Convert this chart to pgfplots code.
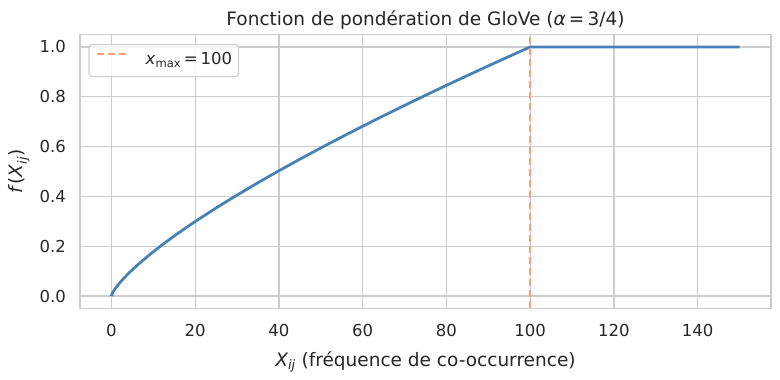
\documentclass[border=0pt]{standalone}
\usepackage{fontspec}
\setmainfont{DejaVu Sans}
\usepackage{amsmath}
\usepackage{pgfplots}
\pgfplotsset{compat=1.18}
\definecolor{steel}{HTML}{4682B4}
\definecolor{salm}{HTML}{F7A07E}
\definecolor{gridc}{HTML}{CCCCCC}
\definecolor{txt}{HTML}{262626}
\newcommand{\tickfont}{\fontsize{16.5}{19.8}\selectfont}
\newcommand{\labfont}{\fontsize{18.5}{22}\selectfont}
\begin{document}
\begin{tikzpicture}
\begin{axis}[
  width=691pt, height=274pt, scale only axis,
  xmin=-7.5, xmax=157.5, ymin=-0.05, ymax=1.05,
  xtick={0,20,40,60,80,100,120,140},
  ytick={0,0.2,0.4,0.6,0.8,1.0},
  grid=major,
  major grid style={gridc, line width=1.3pt},
  axis line style={gridc, line width=1.7pt},
  major tick length=0pt,
  /pgf/number format/assume math mode=true,
  tick label style={font=\tickfont, text=txt},
  xticklabel style={inner sep=0pt, anchor=north, yshift=-15.5pt},
  yticklabel style={inner sep=0pt, anchor=east, xshift=-14pt,
    /pgf/number format/.cd, fixed, fixed zerofill, precision=1},
  every axis x label/.style={at={(axis description cs:0.5,-0.2099)}, anchor=base, font=\labfont, text=txt},
  every axis y label/.style={at={(axis description cs:-0.0825,0.5)}, rotate=90, anchor=base, font=\labfont, text=txt},
  every axis title/.style={at={(axis description cs:0.5,1)}, anchor=base, yshift=8.5pt, font=\labfont, text=txt},
  title={Fonction de pondération de GloVe (\textit{α}\,=\,3/4)},
  xlabel={$\text{\itshape X}_{\text{\itshape ij}}$ (fréquence de co-occurrence)},
  ylabel={\textit{f}($\text{\itshape X}_{\text{\itshape ij}}$)},
  legend style={at={(axis description cs:0.0123,0.9653)}, anchor=north west,
    draw=gridc, line width=1.1pt, rounded corners=3pt, fill=white, fill opacity=0.8, text opacity=1,
    inner xsep=6.5pt, inner ysep=7.75pt, font=\tickfont, text=txt,
    nodes={inner sep=0pt, text height=12.5pt, text depth=4pt}},
  legend image code/.code={\draw[#1] (0pt,6.5pt) -- (30pt,6.5pt);},
]
\addplot[steel, line width=2.8pt, line join=round, forget plot] coordinates {
(0,0) (0.1,0.00562) (0.25,0.01118) (0.5,0.01880) (1,0.03162) (1.5,0.04287) (2,0.05318) (3,0.07208)
(4,0.0894) (5,0.1057) (6,0.1212) (7.5,0.1433) (10,0.1778) (12.5,0.2102) (15,0.2410) (17.5,0.2706)
(20,0.2991) (25,0.3536) (30,0.4054) (35,0.4550) (40,0.5030) (45,0.5494) (50,0.5946) (55,0.6386)
(60,0.6817) (65,0.7239) (70,0.7653) (75,0.8059) (80,0.8459) (85,0.8852) (90,0.9240) (95,0.9623)
(100,1.0) (150,1.0)
};
\addplot[salm, line width=2.1pt, dash pattern=on 7.7pt off 3.3pt] coordinates {(100,-0.05) (100,1.05)};
\addlegendentry{\hspace*{18pt}\textit{x}$_{\text{max}}$\,=\,100}
\end{axis}
\pgfresetboundingbox
\path (current axis.south west) ++(-80pt,-71.5pt) rectangle ++(780pt,380pt);
\end{tikzpicture}
\end{document}
